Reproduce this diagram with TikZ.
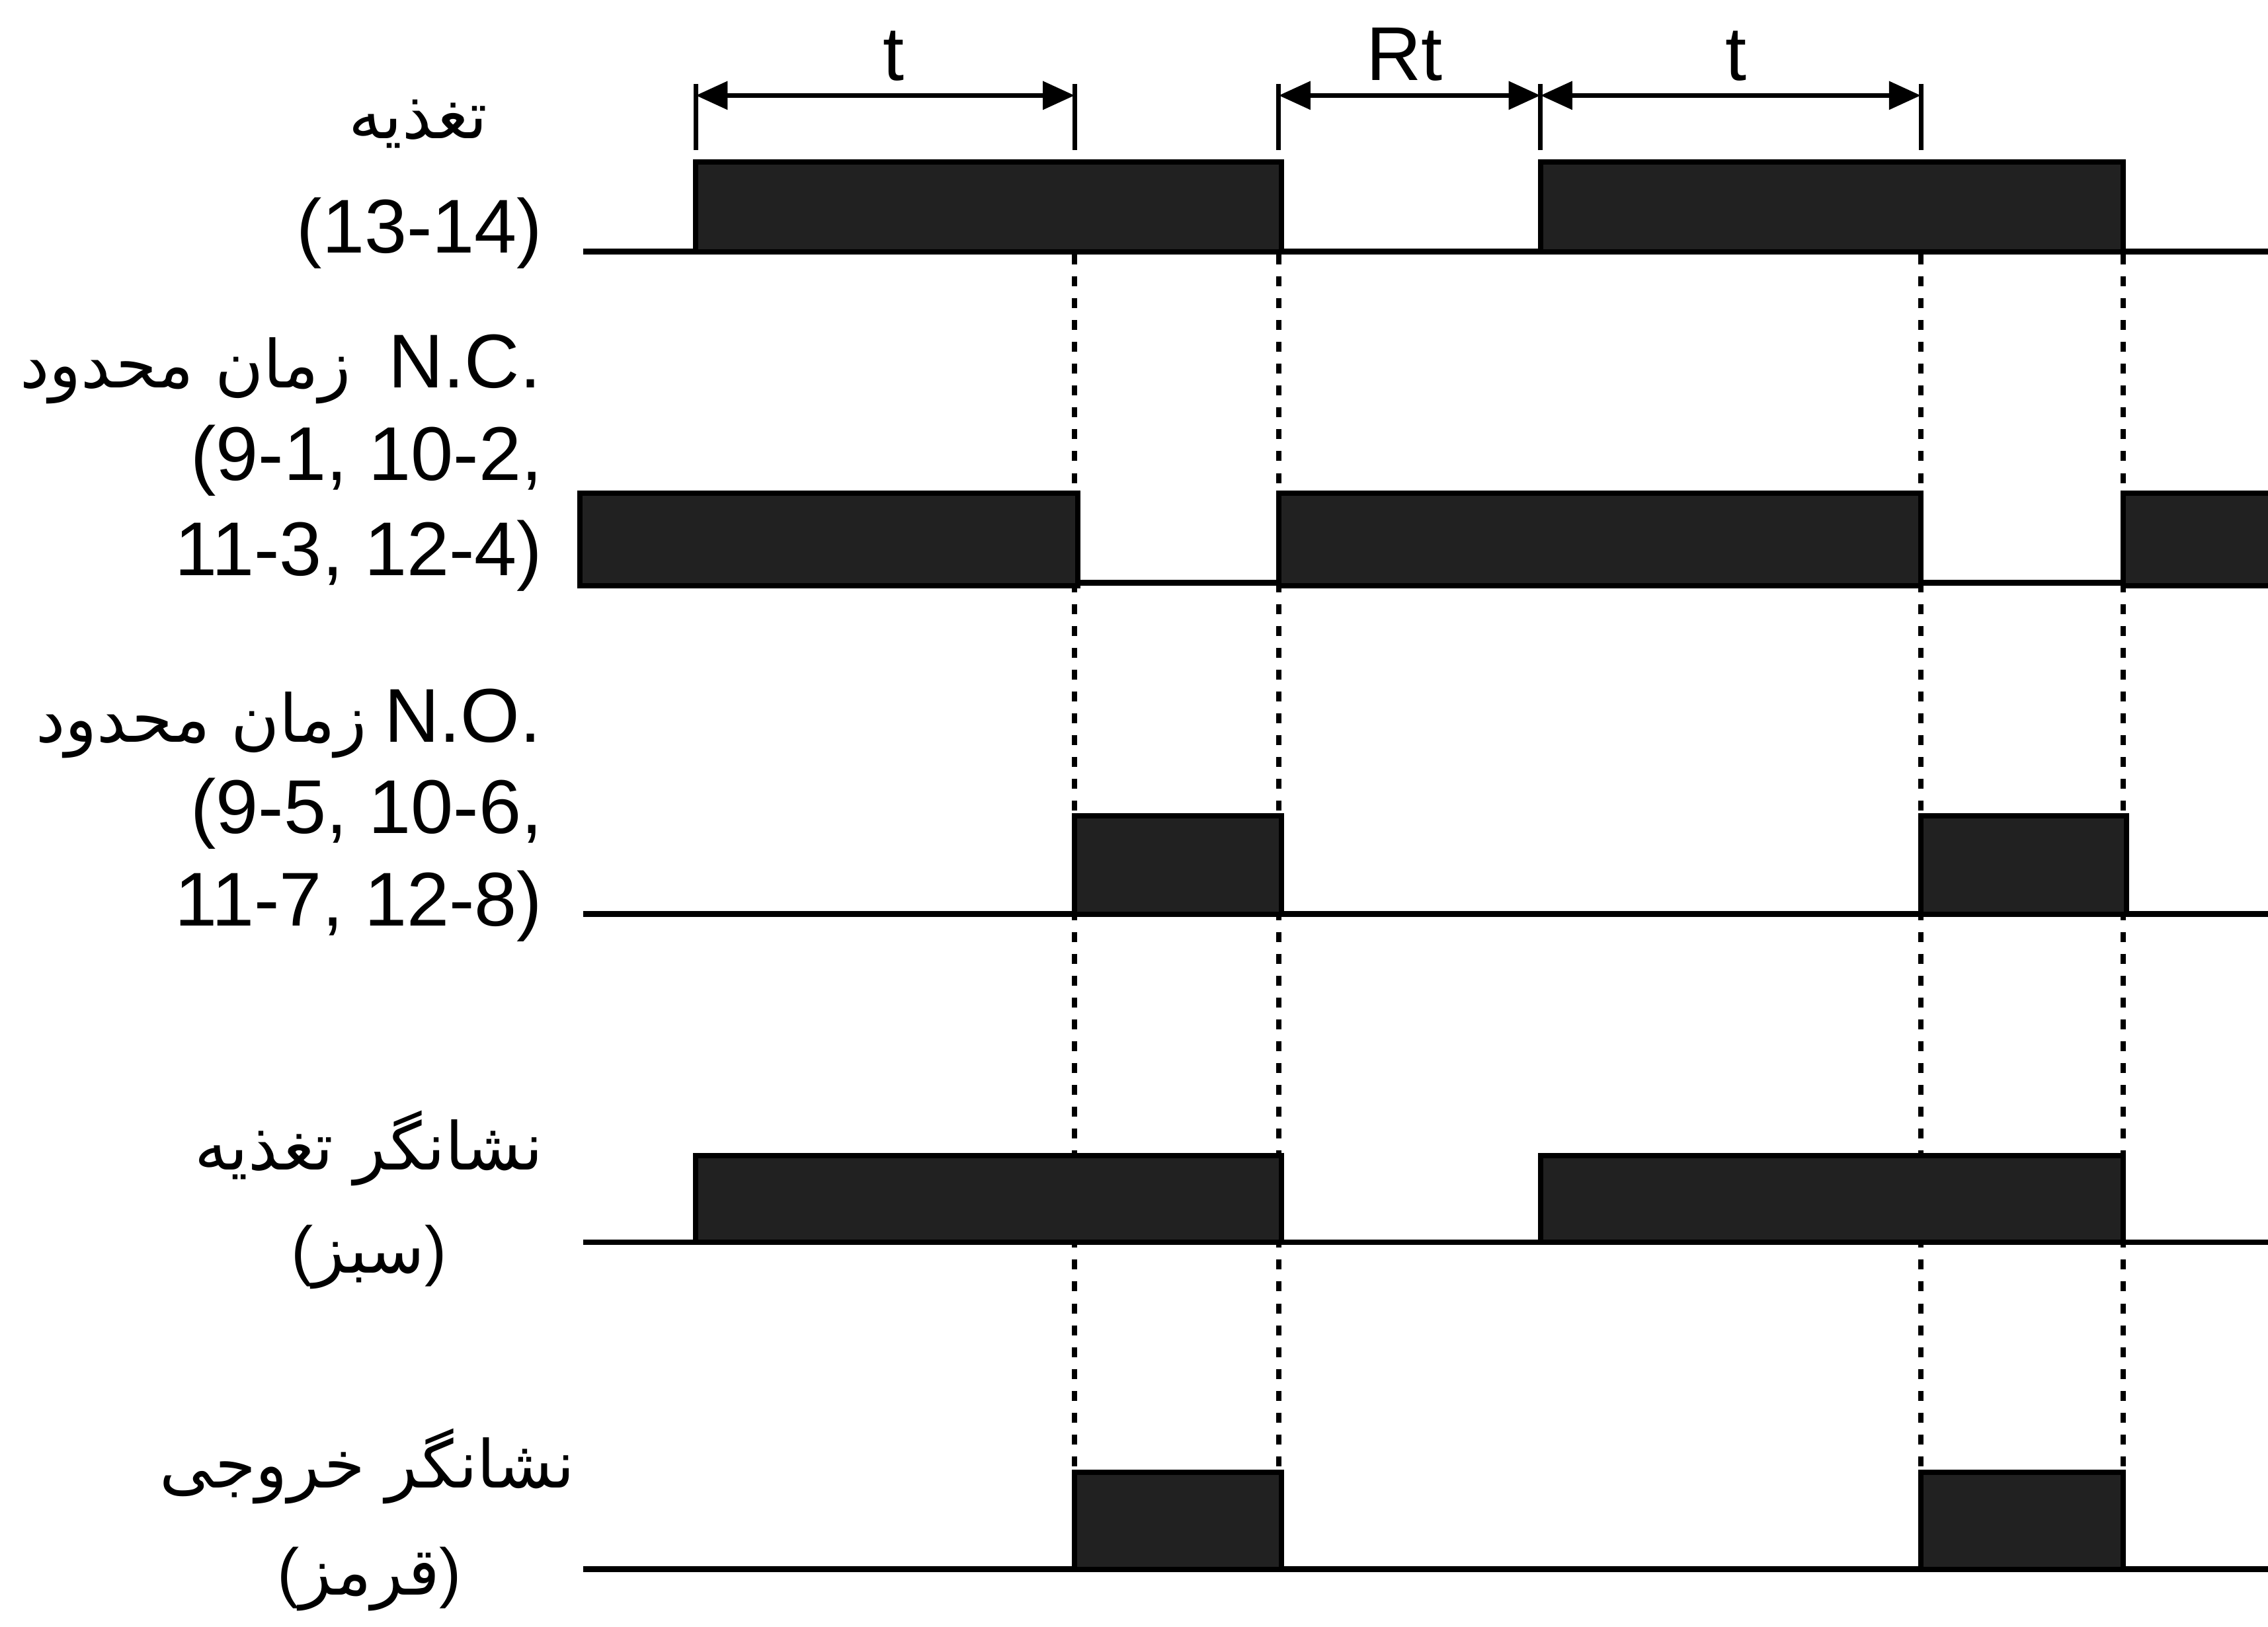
\documentclass[tikz,border=0pt]{standalone}
\usepackage{fontspec}
\setmainfont{Liberation Sans}
\newfontfamily\arabicfont[Script=Arabic]{DejaVu Sans}
\newfontfamily\parfont{Liberation Sans}
\TeXXeTstate=1
\usetikzlibrary{arrows.meta}
\definecolor{blkfill}{HTML}{212121}
\begin{document}
\begin{tikzpicture}[x=0.02cm,y=-0.02cm,
  sig/.style={line width=2.2pt,black,line cap=butt},
  pulse/.style={fill=blkfill,draw=black,line width=2pt},
  dotl/.style={line width=2pt,black,dash pattern=on 3.9pt off 4.7pt},
  ext/.style={line width=1.8pt,black},
  dimarr/.style={line width=2pt,black,{Triangle[length=0.44cm,width=0.38cm]}-{Triangle[length=0.44cm,width=0.38cm]}},
  lat/.style={inner sep=0pt,outer sep=0pt,font=\fontsize{30}{36}\selectfont},
  arb/.style={inner sep=0pt,outer sep=0pt,font=\fontsize{26}{32}\arabicfont}
]
\useasboundingbox (0,0) rectangle (1568,1125);

% time marks
\foreach \n/\x in {a/481,b/743,c/884,d/1065,e/1328,f/1468}{
  \coordinate (top\n) at (\x,58);
  \coordinate (ext\n) at (\x,104);
  \coordinate (dim\n) at (\x,66);
}

% dotted guide lines
\foreach \x in {743,884,1328,1468}{
  \draw[dotl] (\x,176) -- (\x,1085);
}

% dimension lines
\foreach \n in {a,b,c,d,e}{ \draw[ext] (top\n) -- (ext\n); }
\draw[dimarr] (dima) -- (dimb);
\draw[dimarr] (dimc) -- (dimd);
\draw[dimarr] (dimd) -- (dime);
\node[lat,anchor=base] (t1) at (618,55.6) {t};
\node[lat,anchor=base] (rt) at (971,55.6) {Rt};
\node[lat,anchor=base] (t2) at (1200,55.6) {t};

% row 1: supply
\draw[sig] (403,174) -- (1568,174);
\draw[pulse] (481,112) rectangle (886,174);
\draw[pulse] (1065,112) rectangle (1468,174);

% row 2: N.C.
\draw[sig] (743,403) -- (884,403);
\draw[sig] (1328,403) -- (1468,403);
\draw[pulse] (401,341) rectangle (745,405);
\draw[pulse] (884,341) rectangle (1328,405);
\draw[pulse] (1468,341) rectangle (1572,405);

% row 3: N.O.
\draw[sig] (403,632) -- (1568,632);
\draw[pulse] (743,564) rectangle (886,632);
\draw[pulse] (1328,564) rectangle (1470,632);

% row 4: supply indicator
\draw[sig] (403,859) -- (1568,859);
\draw[pulse] (481,799) rectangle (886,859);
\draw[pulse] (1065,799) rectangle (1468,859);

% row 5: output indicator
\draw[sig] (403,1085) -- (1568,1085);
\draw[pulse] (743,1018) rectangle (886,1085);
\draw[pulse] (1328,1018) rectangle (1468,1085);

% labels
\node[arb,anchor=base] (l1a) at (289,95.6) {\beginR تغذیه\endR};
\node[lat,anchor=base east] (l1b) at (375,175) {(13-14)};

\node[lat,anchor=base east] (nc) at (374,268) {N.C.};
\node[arb,anchor=base east] (ncar) at ([xshift=-0.52cm]nc.base west) {\beginR زمان محدود\endR};
\node[lat,anchor=base east] (nc2) at (375,332) {(9-1, 10-2,};
\node[lat,anchor=base east] (nc3) at (375,398) {11-3, 12-4)};

\node[lat,anchor=base east] (no) at (374,513) {N.O.};
\node[arb,anchor=base east] (noar) at ([xshift=-0.24cm]no.base west) {\beginR زمان محدود\endR};
\node[lat,anchor=base east] (no2) at (375,576) {(9-5, 10-6,};
\node[lat,anchor=base east] (no3) at (375,640) {11-7, 12-8)};

\node[arb,anchor=base] (l4a) at (255,809) {\beginR نشانگر تغذیه\endR};
\node[arb,anchor=base] (l4b) at (255,880) {{\parfont(}\beginR سبز\endR{\parfont)}};

\node[arb,anchor=base] (l5a) at (254,1029) {\beginR نشانگر خروجی\endR};
\node[arb,anchor=base] (l5b) at (255.5,1103) {{\parfont(}\beginR قرمز\endR{\parfont)}};
\end{tikzpicture}
\end{document}
